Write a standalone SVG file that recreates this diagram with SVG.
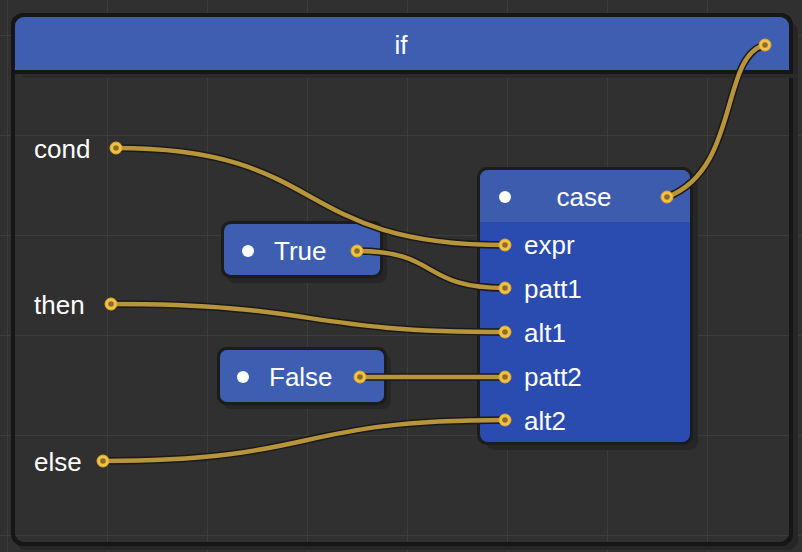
<svg xmlns="http://www.w3.org/2000/svg" width="802" height="552" viewBox="0 0 802 552">
<defs>
<pattern id="grid" x="7" y="35" width="100" height="100" patternUnits="userSpaceOnUse">
<path d="M0 0H100M0 0V100" stroke="#3c3c3c" stroke-width="2" fill="none"/>
</pattern>
<clipPath id="caseclip"><rect x="480" y="170" width="210" height="272" rx="8"/></clipPath>
</defs>
<style>
text{font-family:"Liberation Sans",Arial,sans-serif;fill:#ffffff;font-size:26px}
.lbl{dominant-baseline:central}
.wire-o{fill:none;stroke:#1a1a1a;stroke-width:7.5;stroke-linecap:round}
.wire{fill:none;stroke:#b8953b;stroke-width:4.5;stroke-linecap:round}
.port{fill:#f2c244;stroke:#e0a92e;stroke-width:1}
.porti{fill:#8a6d2a}
.shadow{fill:#262626}
.border{fill:#1c1c1c}
.nodeb{fill:#3d5eb1}
</style>
<rect width="802" height="552" fill="#303030"/>
<rect width="802" height="552" fill="url(#grid)"/>

<g id="frame">
<rect x="16" y="22" width="782" height="528" rx="10" class="shadow"/>
<rect x="11" y="13" width="782" height="533" rx="12" fill="#161616"/>
<rect x="15" y="17" width="774" height="525" rx="9" fill="#303030"/>
<rect x="15" y="17" width="774" height="525" rx="9" fill="url(#grid)"/>
<path d="M15 70V26a9 9 0 0 1 9-9H780a9 9 0 0 1 9 9V70Z" class="nodeb"/>
<rect x="13" y="70" width="778" height="4" fill="#161616"/>
<rect x="22" y="74" width="775" height="4" fill="#2a2a2a"/>
<text x="401" y="45" text-anchor="middle" class="lbl">if</text>
<text x="34" y="149" class="lbl">cond</text>
<text x="34" y="305" class="lbl">then</text>
<text x="34" y="462" class="lbl">else</text>
</g>

<g id="node-true">
<rect x="227" y="228" width="160" height="55" rx="8" class="shadow"/>
<rect x="221" y="221" width="162" height="57" rx="9" class="border"/>
<rect x="224" y="224" width="156" height="51" rx="7" class="nodeb"/>
<circle cx="248" cy="251" r="6" fill="#fff"/>
<text x="274" y="251" class="lbl">True</text>
</g>

<g id="node-false">
<rect x="223" y="354" width="168" height="55" rx="8" class="shadow"/>
<rect x="217" y="347" width="170" height="58" rx="9" class="border"/>
<rect x="220" y="350" width="164" height="52" rx="7" class="nodeb"/>
<circle cx="243" cy="377" r="6" fill="#fff"/>
<text x="269" y="377" class="lbl">False</text>
</g>

<g id="node-case">
<rect x="486" y="176" width="212" height="274" rx="9" class="shadow"/>
<rect x="477" y="167" width="216" height="278" rx="10" class="border"/>
<g clip-path="url(#caseclip)">
<rect x="480" y="170" width="210" height="272" fill="#2a4bb0"/>
<rect x="480" y="170" width="210" height="52" fill="#3d5cae"/>
</g>
<circle cx="505" cy="197" r="6" fill="#fff"/>
<text x="584" y="197" text-anchor="middle" class="lbl">case</text>
<text x="524" y="245" class="lbl">expr</text>
<text x="524" y="289" class="lbl">patt1</text>
<text x="524" y="333" class="lbl">alt1</text>
<text x="524" y="377" class="lbl">patt2</text>
<text x="524" y="421" class="lbl">alt2</text>
</g>

<g id="connectors">
<path class="wire-o" d="M116 148C330 148 290 245 505 245"/>
<path class="wire" d="M116 148C330 148 290 245 505 245"/>
<path class="wire-o" d="M357 251C440 251 420 288 505 288"/>
<path class="wire" d="M357 251C440 251 420 288 505 288"/>
<path class="wire-o" d="M111 304C320 304 300 332 505 332"/>
<path class="wire" d="M111 304C320 304 300 332 505 332"/>
<path class="wire-o" d="M360 377L505 377"/>
<path class="wire" d="M360 377L505 377"/>
<path class="wire-o" d="M103 461C320 461 290 420 505 420"/>
<path class="wire" d="M103 461C320 461 290 420 505 420"/>
<path class="wire-o" d="M667 197C740 170 720 55 765 45"/>
<path class="wire" d="M667 197C740 170 720 55 765 45"/>
</g>

<g id="ports">
<circle cx="116" cy="148" r="6" class="port"/><circle cx="116" cy="148" r="2.8" class="porti"/>
<circle cx="111" cy="304" r="6" class="port"/><circle cx="111" cy="304" r="2.8" class="porti"/>
<circle cx="103" cy="461" r="6" class="port"/><circle cx="103" cy="461" r="2.8" class="porti"/>
<circle cx="765" cy="45" r="6" class="port"/><circle cx="765" cy="45" r="2.8" class="porti"/>
<circle cx="357" cy="251" r="6" class="port"/><circle cx="357" cy="251" r="2.8" class="porti"/>
<circle cx="360" cy="377" r="6" class="port"/><circle cx="360" cy="377" r="2.8" class="porti"/>
<circle cx="667" cy="197" r="6" class="port"/><circle cx="667" cy="197" r="2.8" class="porti"/>
<circle cx="505" cy="245" r="6" class="port"/><circle cx="505" cy="245" r="2.8" class="porti"/>
<circle cx="505" cy="288" r="6" class="port"/><circle cx="505" cy="288" r="2.8" class="porti"/>
<circle cx="505" cy="332" r="6" class="port"/><circle cx="505" cy="332" r="2.8" class="porti"/>
<circle cx="505" cy="377" r="6" class="port"/><circle cx="505" cy="377" r="2.8" class="porti"/>
<circle cx="505" cy="420" r="6" class="port"/><circle cx="505" cy="420" r="2.8" class="porti"/>
</g>
</svg>
